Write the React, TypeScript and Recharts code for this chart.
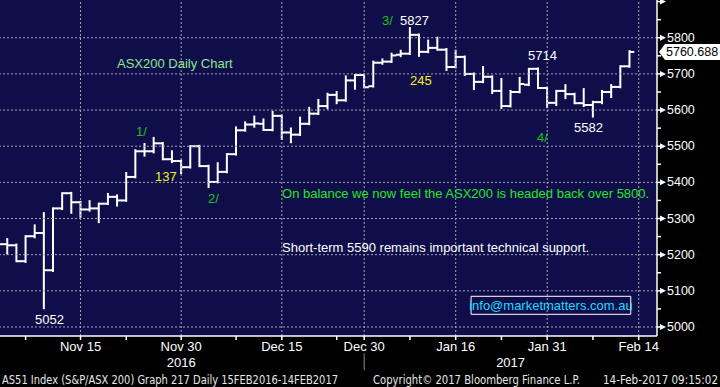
import React from 'react';
import {
  ComposedChart,
  Bar,
  XAxis,
  YAxis,
  CartesianGrid,
  ReferenceLine,
  ReferenceDot,
  ReferenceArea,
} from 'recharts';

const FONT = "'Liberation Sans', Arial, Helvetica, sans-serif";
const NARROW = "'Liberation Sans Narrow', 'DejaVu Sans Condensed', 'Liberation Sans', sans-serif";

// ---- data (ASX200 daily OHLC) ----
const dates = [
  'Nov 2', 'Nov 3', 'Nov 4', 'Nov 7', 'Nov 8', 'Nov 9', 'Nov 10', 'Nov 11', 'Nov 14', 'Nov 15',
  'Nov 16', 'Nov 17', 'Nov 18', 'Nov 21', 'Nov 22', 'Nov 23', 'Nov 24', 'Nov 25', 'Nov 28', 'Nov 29',
  'Nov 30', 'Dec 1', 'Dec 2', 'Dec 5', 'Dec 6', 'Dec 7', 'Dec 8', 'Dec 9', 'Dec 12', 'Dec 13',
  'Dec 14', 'Dec 15', 'Dec 16', 'Dec 19', 'Dec 20', 'Dec 21', 'Dec 22', 'Dec 23', 'Dec 28', 'Dec 29',
  'Dec 30', 'Jan 3', 'Jan 4', 'Jan 5', 'Jan 6', 'Jan 9', 'Jan 10', 'Jan 11', 'Jan 12', 'Jan 13',
  'Jan 16', 'Jan 17', 'Jan 18', 'Jan 19', 'Jan 20', 'Jan 23', 'Jan 24', 'Jan 25', 'Jan 27', 'Jan 30',
  'Jan 31', 'Feb 1', 'Feb 2', 'Feb 3', 'Feb 6', 'Feb 7', 'Feb 8', 'Feb 9', 'Feb 10', 'Feb 13',
];
const opens = [
  5235, 5229, 5226, 5182, 5251, 5260, 5157, 5328, 5370, 5345,
  5325, 5328, 5341, 5360, 5350, 5415, 5486, 5486, 5508, 5464,
  5459, 5442, 5500, 5445, 5401, 5429, 5478, 5544, 5560, 5562,
  5545, 5584, 5538, 5532, 5562, 5590, 5611, 5642, 5627, 5682,
  5697, 5666, 5731, 5734, 5753, 5756, 5808, 5761, 5772, 5767,
  5719, 5747, 5700, 5678, 5692, 5653, 5611, 5650, 5670, 5714,
  5661, 5620, 5653, 5644, 5619, 5614, 5622, 5650, 5664, 5721,
];
const highs = [
  5250, 5243, 5228, 5251, 5281, 5315, 5328, 5370, 5371, 5346,
  5348, 5341, 5368, 5364, 5426, 5489, 5506, 5523, 5509, 5486,
  5460, 5500, 5501, 5446, 5453, 5478, 5552, 5566, 5582, 5574,
  5595, 5585, 5549, 5579, 5606, 5628, 5645, 5650, 5693, 5697,
  5698, 5734, 5740, 5756, 5764, 5827, 5809, 5792, 5800, 5769,
  5764, 5748, 5701, 5719, 5693, 5686, 5653, 5689, 5714, 5715,
  5662, 5653, 5669, 5645, 5658, 5623, 5653, 5669, 5721, 5763,
];
const lows = [
  5215, 5203, 5182, 5180, 5248, 5052, 5155, 5326, 5316, 5305,
  5322, 5290, 5340, 5336, 5349, 5414, 5474, 5483, 5464, 5456,
  5426, 5441, 5445, 5387, 5400, 5428, 5477, 5543, 5554, 5545,
  5544, 5520, 5511, 5531, 5561, 5589, 5605, 5619, 5626, 5659,
  5663, 5665, 5728, 5733, 5749, 5755, 5750, 5760, 5767, 5711,
  5718, 5697, 5658, 5677, 5647, 5606, 5610, 5649, 5669, 5661,
  5608, 5614, 5633, 5619, 5611, 5582, 5619, 5636, 5663, 5720,
];
const closes = [
  5229, 5226, 5182, 5251, 5260, 5157, 5328, 5370, 5345, 5325,
  5328, 5341, 5360, 5350, 5415, 5486, 5486, 5508, 5464, 5459,
  5442, 5500, 5445, 5401, 5429, 5478, 5544, 5560, 5563, 5545,
  5584, 5538, 5532, 5562, 5590, 5611, 5642, 5627, 5682, 5697,
  5663, 5731, 5734, 5751, 5756, 5808, 5761, 5772, 5767, 5719,
  5747, 5700, 5678, 5692, 5653, 5611, 5650, 5672, 5714, 5661,
  5620, 5653, 5644, 5619, 5614, 5622, 5650, 5664, 5721, 5760.688,
];

// ---- axes ----
const xDomain = [0.2, 72];
const xMajorTicks = [9, 20, 31, 40, 50, 60, 70];
const xMajorLabels = ['Nov 15', 'Nov 30', 'Dec 15', 'Dec 30', 'Jan 16', 'Jan 31', 'Feb 14'];
const xMinorTicks = [3, 14, 26, 37, 45, 55, 65];
const yearLabelPos = [20, 56];
const yearLabels = ['2016', '2017'];
const yearDivider = 40;

const yDomain = [4975.1, 5904.4];
const yMajorTicks = [5000, 5100, 5200, 5300, 5400, 5500, 5600, 5700, 5800, 5900];
const yMinorTicks = [5050, 5150, 5250, 5350, 5450, 5550, 5650, 5750, 5850];
const yGridValues = [5000, 5100, 5200, 5300, 5400, 5500, 5600, 5700, 5800];
const lastClose = 5760.688;
const lastCloseLabel = '5760.688';

// ---- annotations (data coordinates: index, value) ----
const annotations = [
  { text: 'ASX200 Daily Chart', i: 12.99, v: 5730, color: '#8fe88f' },
  { text: '1/', i: 15.06, v: 5542, color: '#1cc21c' },
  { text: '137', i: 17.14, v: 5415, color: '#f2f21e' },
  { text: '2/', i: 22.93, v: 5356, color: '#1cc21c' },
  { text: '3/', i: 41.95, v: 5849, color: '#1cc21c' },
  { text: '5827', i: 43.92, v: 5849, color: '#ffffff' },
  { text: '245', i: 45.01, v: 5681, color: '#f2f21e' },
  { text: '5714', i: 57.9, v: 5752, color: '#ffffff' },
  { text: '4/', i: 58.89, v: 5523, color: '#1cc21c' },
  { text: '5582', i: 62.93, v: 5553, color: '#ffffff' },
  { text: '5052', i: 4.03, v: 5022, color: '#ffffff' },
  { text: 'On balance we now feel the ASX200 is headed back over 5800.', i: 31.02, v: 5370, color: '#22e622' },
  { text: 'Short-term 5590 remains important technical support.', i: 31.02, v: 5219, color: '#ffffff' },
];
const emailText = 'info@marketmatters.com.au';
const emailBox = { x1: 51.68, x2: 69.13, y1: 5035.1, y2: 5084.9 };

const footerTexts = [
  { text: 'AS51 Index (S&P/ASX 200) Graph 217  Daily 15FEB2016-14FEB2017', x: 2, w: 336 },
  { text: 'Copyright\u00a9 2017 Bloomberg Finance L.P.', x: 373, w: 207 },
  { text: '14-Feb-2017 09:15:02', x: 603, w: 115 },
];

const rows = dates.map((d, i) => ({
  i,
  d,
  o: opens[i],
  h: highs[i],
  l: lows[i],
  c: closes[i],
  range: [lows[i], highs[i]],
}));

const OhlcShape = (props: any) => {
  const { x, y, width, height, payload } = props;
  if (x == null || y == null || !payload) return null;
  const cx = x + width / 2;
  const top = Math.min(y, y + height);
  const span = Math.abs(height);
  const { o, h, l, c } = payload;
  const rg = h - l;
  const py = (v: number) => (rg > 0 ? top + ((h - v) / rg) * span : top);
  const half = width / 2 + 0.3;
  return (
    <g stroke="#ffffff" strokeWidth={2} fill="none">
      <line x1={cx} x2={cx} y1={top - 1} y2={top + span + 1} />
      <line x1={cx - half} x2={cx} y1={py(o)} y2={py(o)} />
      <line x1={cx} x2={cx + half} y1={py(c)} y2={py(c)} />
    </g>
  );
};

const XTick = (props: any) => {
  const { x, y, payload } = props;
  const v = payload.value;
  const mi = xMajorTicks.indexOf(v);
  const yi = yearLabelPos.indexOf(v);
  const isTick = mi >= 0 || xMinorTicks.indexOf(v) >= 0;
  return (
    <g>
      {isTick && <line x1={x} x2={x} y1={y} y2={y + 4} stroke="#ffffff" strokeWidth={1.5} />}
      {mi >= 0 && (
        <text x={x} y={y + 10} textAnchor="middle" dominantBaseline="central" fill="#ffffff" fontSize={13} fontFamily={FONT}>
          {xMajorLabels[mi]}
        </text>
      )}
      {yi >= 0 && (
        <text x={x} y={y + 26.5} textAnchor="middle" dominantBaseline="central" fill="#ffffff" fontSize={13} fontFamily={FONT}>
          {yearLabels[yi]}
        </text>
      )}
      {v === yearDivider && <line x1={x} x2={x} y1={y + 17.5} y2={y + 34} stroke="#8a8a8a" strokeWidth={1} />}
    </g>
  );
};

const YTick = (props: any) => {
  const { x, y, payload } = props;
  const v = payload.value;
  if (v === lastClose) {
    return (
      <g>
        <polygon
          points={`${x + 2},${y} ${x + 8},${y - 8} ${x + 66},${y - 8} ${x + 66},${y + 8} ${x + 8},${y + 8}`}
          fill="#ffffff"
        />
        <text x={x + 9} y={y} dominantBaseline="central" fill="#000000" fontSize={12.5} fontFamily={FONT}>
          {lastCloseLabel}
        </text>
      </g>
    );
  }
  if (yMajorTicks.indexOf(v) >= 0) {
    return (
      <g>
        <line x1={x} x2={x + 4} y1={y} y2={y} stroke="#ffffff" strokeWidth={1.5} />
        <polygon points={`${x + 3},${y - 3} ${x + 9},${y} ${x + 3},${y + 3}`} fill="#ffffff" />
        {v !== 5900 && (
          <text x={x + 10} y={y} dominantBaseline="central" fill="#ffffff" fontSize={12.5} fontFamily={FONT}>
            {v}
          </text>
        )}
      </g>
    );
  }
  return <line x1={x} x2={x + 4} y1={y} y2={y} stroke="#ffffff" strokeWidth={1.5} />;
};

const textShape = (a: { text: string; color: string }, anchor: 'start' | 'middle' = 'start') => (p: any) => (
  <text
    x={p.cx}
    y={p.cy}
    textAnchor={anchor}
    dominantBaseline="central"
    fill={a.color}
    fontSize={13}
    fontFamily={FONT}
  >
    {a.text}
  </text>
);

export default function App() {
  return (
    <div style={{ position: 'absolute', left: 0, top: 0, width: 720, height: 387, background: '#000000', overflow: 'hidden' }}>
      <ComposedChart
        width={720}
        height={387}
        data={rows}
        margin={{ top: 0, right: 0, bottom: 0, left: 0 }}
      >
        <CartesianGrid horizontal={false} vertical={false} fill="#100e4a" stroke="none" />
        <XAxis
          dataKey="i"
          type="number"
          domain={xDomain}
          allowDataOverflow
          ticks={[...xMinorTicks, ...xMajorTicks, 56]}
          interval={0}
          height={51}
          tickSize={0}
          tickMargin={0}
          tickLine={false}
          axisLine={{ stroke: '#ffffff', strokeWidth: 1.5 }}
          tick={<XTick />}
        />
        <YAxis
          orientation="right"
          type="number"
          domain={yDomain}
          allowDataOverflow
          ticks={[...yMajorTicks, ...yMinorTicks, lastClose]}
          interval={0}
          width={63}
          tickSize={0}
          tickMargin={0}
          tickLine={false}
          axisLine={{ stroke: '#ffffff', strokeWidth: 1.5 }}
          tick={<YTick />}
        />
        {yGridValues.map((v) => (
          <ReferenceLine key={'gy' + v} y={v} stroke="#a4a4b4" strokeDasharray="2 2" strokeWidth={1} />
        ))}
        {xMajorTicks.map((v) => (
          <ReferenceLine key={'gx' + v} x={v} stroke="#a4a4b4" strokeDasharray="2 2" strokeWidth={1} />
        ))}
        <Bar dataKey="range" barSize={9} shape={<OhlcShape />} isAnimationActive={false} />
        <ReferenceArea
          x1={emailBox.x1}
          x2={emailBox.x2}
          y1={emailBox.y1}
          y2={emailBox.y2}
          fill="none"
          fillOpacity={0}
          stroke="#ffffff"
          strokeWidth={1}
          ifOverflow="visible"
        />
        <ReferenceDot
          x={(emailBox.x1 + emailBox.x2) / 2}
          y={(emailBox.y1 + emailBox.y2) / 2}
          r={0}
          ifOverflow="visible"
          shape={textShape({ text: emailText, color: '#19dcff' }, 'middle')}
        />
        {annotations.map((a, k) => (
          <ReferenceDot key={'an' + k} x={a.i} y={a.v} r={0} ifOverflow="visible" shape={textShape(a)} />
        ))}
      </ComposedChart>
      <svg width={720} height={387} style={{ position: 'absolute', left: 0, top: 0, pointerEvents: 'none' }}>
        {footerTexts.map((f, k) => (
          <text
            key={k}
            x={f.x}
            y={379.5}
            dominantBaseline="central"
            fill="#e6e6e6"
            fontSize={11.5}
            fontFamily={NARROW}
            textLength={f.w}
            lengthAdjust="spacingAndGlyphs"
          >
            {f.text}
          </text>
        ))}
      </svg>
    </div>
  );
}
